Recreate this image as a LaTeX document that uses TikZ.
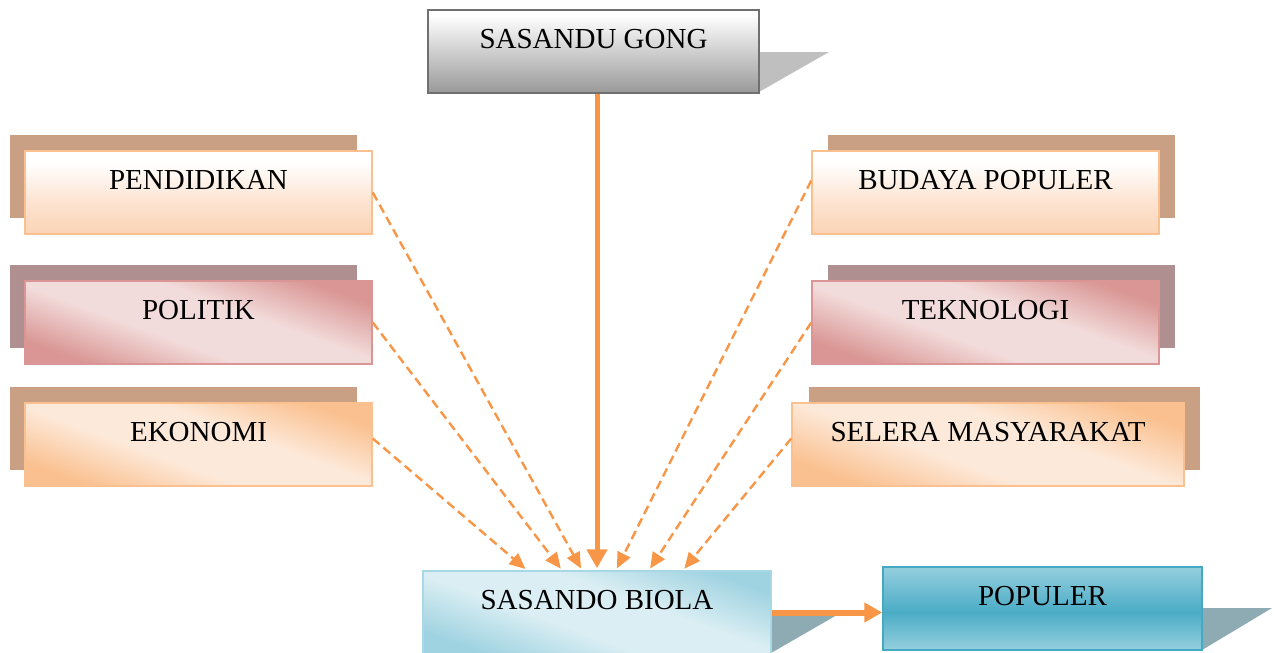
\documentclass[tikz,border=0pt]{standalone}
\usepackage{fontspec}
\setmainfont{Liberation Serif}
\usetikzlibrary{arrows.meta}
\definecolor{org}{HTML}{F79646}
\definecolor{tanS}{HTML}{C9A084}
\definecolor{mauveS}{HTML}{AF8F8F}
\definecolor{grayS}{HTML}{BFBFBF}
\definecolor{blueS}{HTML}{8EAAB2}
\definecolor{pchB}{HTML}{FBD4B4}
\definecolor{pchM}{HTML}{FCE4D2}
\definecolor{pchE}{HTML}{FAC090}
\definecolor{gB}{HTML}{999999}
\definecolor{gM}{HTML}{CFCFCF}
\definecolor{gE}{HTML}{707070}
\definecolor{pkD}{HTML}{D99694}
\definecolor{pkL}{HTML}{F2DCDB}
\definecolor{orD}{HTML}{FAC08F}
\definecolor{orL}{HTML}{FDE9D9}
\definecolor{blD}{HTML}{A0D3E1}
\definecolor{blL}{HTML}{DAEEF3}
\definecolor{blE}{HTML}{A8D8E6}
\definecolor{pbA}{HTML}{95CFDE}
\definecolor{pbB}{HTML}{4BACC6}
\definecolor{pbE}{HTML}{45A9C4}
\pgfdeclareverticalshading{peachv}{100bp}{color(0bp)=(pchB); color(25bp)=(pchB); color(45bp)=(pchM); color(68bp)=(white); color(100bp)=(white)}
\pgfdeclareverticalshading{grayv}{100bp}{color(0bp)=(gB); color(25bp)=(gB); color(50bp)=(gM); color(72bp)=(white); color(100bp)=(white)}
\pgfdeclareverticalshading{bluev}{100bp}{color(0bp)=(pbA); color(25bp)=(pbA); color(48bp)=(pbB); color(75bp)=(pbA); color(100bp)=(pbA)}
\pgfdeclareverticalshading{pinkdiag}{100bp}{color(0bp)=(pkD); color(25bp)=(pkD); color(42bp)=(pkL); color(58bp)=(pkL); color(75bp)=(pkD); color(100bp)=(pkD)}
\pgfdeclareverticalshading{orangediag}{100bp}{color(0bp)=(orD); color(25bp)=(orD); color(42bp)=(orL); color(58bp)=(orL); color(75bp)=(orD); color(100bp)=(orD)}
\pgfdeclareverticalshading{bluediag}{100bp}{color(0bp)=(blD); color(25bp)=(blD); color(42bp)=(blL); color(58bp)=(blL); color(75bp)=(blD); color(100bp)=(blD)}
\tikzset{
  box/.style={rectangle, inner sep=0pt, minimum height=83pt, line width=1.5pt,
    text height=20pt, text depth=26pt, font=\fontsize{29}{34}\selectfont, text=black},
  peachbox/.style={box, draw=pchE, shade, shading=peachv},
  pinkbox/.style={box, draw=pkD, shade, shading=pinkdiag, shading angle=-20},
  orangebox/.style={box, draw=pchE, shade, shading=orangediag, shading angle=-20},
  graybox/.style={box, draw=gE, shade, shading=grayv},
  biolabox/.style={box, draw=blE, shade, shading=bluediag, shading angle=-20},
  popbox/.style={box, draw=pbE, shade, shading=bluev},
  dasharrow/.style={draw=org, line width=2.4pt, dash pattern=on 9pt off 5pt,
    -{Triangle[length=16pt,width=14pt]}, shorten >=2pt},
  solidarrow/.style={draw=org, line width=5pt, -{Triangle[length=19pt,width=20pt]}, shorten >=2pt},
  hzarrow/.style={draw=org, line width=6pt, -{Triangle[length=18pt,width=19pt]}}
}
\begin{document}
\begin{tikzpicture}[x=1pt,y=-1pt]
\useasboundingbox (0,0) rectangle (1274,653);
% shadows
\fill[tanS] (10,135) rectangle (357,218);
\fill[mauveS] (10,265) rectangle (357,348);
\fill[tanS] (10,387) rectangle (357,470);
\fill[tanS] (828,135) rectangle (1175,218);
\fill[mauveS] (828,265) rectangle (1175,348);
\fill[tanS] (809,387) rectangle (1200,470);
\fill[grayS] (759,52) -- (829,52) -- (759,92) -- cycle;
\fill[blueS] (771,615) -- (837,615) -- (771,653) -- cycle;
\fill[blueS] (1202,608) -- (1272,608) -- (1202,650) -- cycle;
% boxes
\node[graybox, minimum width=331pt] (gong) at (593.5,51.5) {SASANDU GONG};
\node[peachbox, minimum width=347pt] (pend) at (198.5,192.5) {PENDIDIKAN};
\node[pinkbox, minimum width=347pt] (polit) at (198.5,322.5) {POLITIK};
\node[orangebox, minimum width=347pt] (ekon) at (198.5,444.5) {EKONOMI};
\node[peachbox, minimum width=347pt] (buday) at (985.5,192.5) {BUDAYA POPULER};
\node[pinkbox, minimum width=347pt] (tekno) at (985.5,322.5) {TEKNOLOGI};
\node[orangebox, minimum width=392pt] (selera) at (988,444.5) {SELERA MASYARAKAT};
\node[biolabox, minimum width=348pt] (biola) at (597,612.5) {SASANDO BIOLA};
\node[popbox, minimum width=319pt] (pop) at (1042.5,608.5) {POPULER};
% connectors
\draw[solidarrow] (gong.south -| biola.north) -- (biola.north);
\draw[dasharrow] (pend.east) -- ([xshift=-15pt]biola.north);
\draw[dasharrow] (polit.east) -- ([xshift=-35pt]biola.north);
\draw[dasharrow] ([yshift=6pt]ekon.east) -- ([xshift=-70pt]biola.north);
\draw[dasharrow] ([yshift=12pt]buday.west) -- ([xshift=19pt]biola.north);
\draw[dasharrow] (tekno.west) -- ([xshift=52pt]biola.north);
\draw[dasharrow] ([yshift=6pt]selera.west) -- ([xshift=86pt]biola.north);
\draw[hzarrow] (biola.east) -- (biola.east -| pop.west);
\end{tikzpicture}
\end{document}
